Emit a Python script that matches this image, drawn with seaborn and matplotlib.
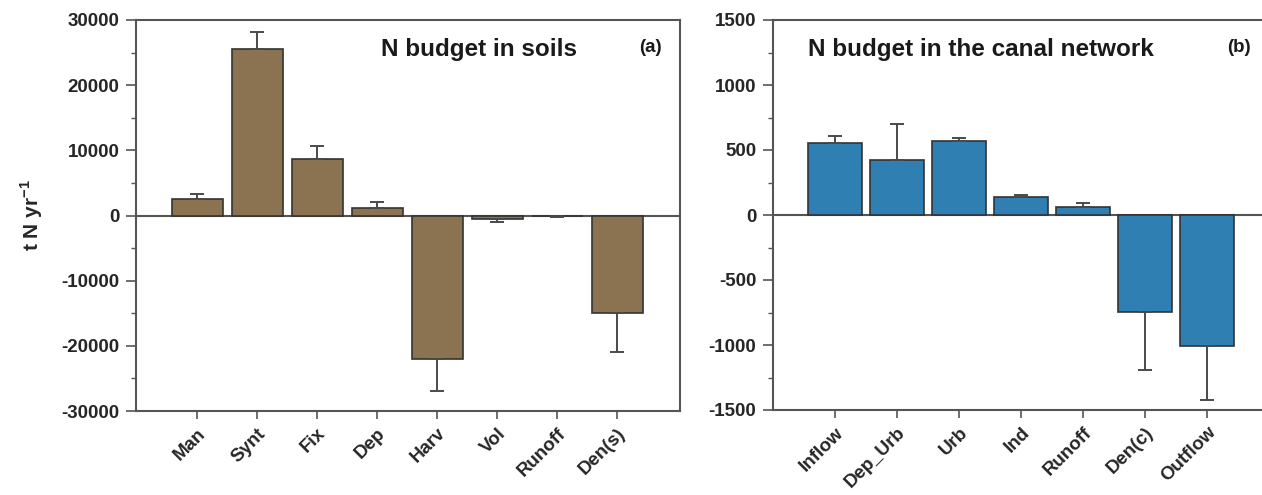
import matplotlib
matplotlib.use("Agg")
import matplotlib.pyplot as plt
from matplotlib.ticker import MultipleLocator
import numpy as np
import pandas as pd
import seaborn as sns

# Soil N budget (t N per year)
soil_terms = ["Man", "Synt", "Fix", "Dep", "Harv", "Vol", "Runoff", "Den(s)"]
soil_values = [2500, 25500, 8700, 1200, -22000, -500, -100, -15000]
soil_errors = [800, 2600, 2000, 800, 4900, 500, 60, 6000]

# Canal network N budget (t N per year)
canal_terms = ["Inflow", "Dep_Urb", "Urb", "Ind", "Runoff", "Den(c)", "Outflow"]
canal_values = [555, 422, 567, 137, 61, -746, -1010]
canal_errors = [50, 275, 27, 15, 35, 450, 415]

soil_ticks = [-30000, -20000, -10000, 0, 10000, 20000, 30000]
canal_ticks = [-1500, -1000, -500, 0, 500, 1000, 1500]

sns.set_theme(style="white")
plt.rcParams["font.family"] = ["Liberation Sans", "DejaVu Sans"]
plt.rcParams["axes.unicode_minus"] = False
plt.rcParams["mathtext.fontset"] = "custom"
plt.rcParams["mathtext.rm"] = "Liberation Sans"
plt.rcParams["mathtext.bf"] = "Liberation Sans:bold"

W, H = 1262, 495
fig = plt.figure(figsize=(W / 100, H / 100), dpi=100)

ax_a = fig.add_axes([136 / W, (H - 411) / H, (680 - 136) / W, (411 - 20) / H])
ax_b = fig.add_axes([773 / W, (H - 410) / H, (1269 - 773) / W, (410 - 20) / H])

spine_col = "#555555"
err_col = "#4a4a4a"


def draw_panel(ax, terms, values, errors, color, width, ticks, minor, xlim,
               title, title_x, tag, tag_x):
    df = pd.DataFrame({"term": terms, "value": values})
    sns.barplot(data=df, x="term", y="value", color=color, width=width,
                saturation=1, edgecolor="#333333", linewidth=1.2, ax=ax,
                errorbar=None)
    vals = np.array(values, dtype=float)
    errs = np.array(errors, dtype=float)
    lower = np.where(vals < 0, errs, 0)
    upper = np.where(vals >= 0, errs, 0)
    ax.errorbar(np.arange(len(terms)), vals, yerr=[lower, upper], fmt="none",
                ecolor=err_col, elinewidth=1.4, capsize=5, capthick=1.4,
                zorder=1)
    ax.axhline(0, color=spine_col, lw=1.5, zorder=0.5)
    ax.set_xlim(*xlim)
    ax.set_ylim(ticks[0], ticks[-1])
    ax.set_yticks(ticks)
    ax.yaxis.set_minor_locator(MultipleLocator(minor))
    ax.set_xlabel("")
    ax.set_ylabel("")
    for sp in ax.spines.values():
        sp.set_color(spine_col)
        sp.set_linewidth(1.5)
        sp.set_visible(True)
    ax.tick_params(axis="y", which="major", direction="out", length=7,
                   width=1.2, color=spine_col, left=True, labelsize=13.5,
                   pad=5)
    ax.tick_params(axis="y", which="minor", direction="out", length=3.5,
                   width=1.0, color=spine_col, left=True)
    ax.tick_params(axis="x", direction="out", length=6, width=1.2,
                   color=spine_col, bottom=True, labelsize=13.5, pad=4)
    for lab in ax.get_yticklabels():
        lab.set_fontweight("bold")
    ax.set_xticks(range(len(terms)))
    ax.set_xticklabels(terms, rotation=45, ha="right", rotation_mode="anchor",
                       fontweight="bold")
    ax.text(title_x, 0.925, title, transform=ax.transAxes, fontsize=17.5,
            fontweight="bold", ha="left", va="center", color="#1a1a1a")
    ax.text(tag_x, 0.93, tag, transform=ax.transAxes, fontsize=13.5,
            fontweight="bold", ha="left", va="center", color="#1a1a1a")


draw_panel(ax_a, soil_terms, soil_values, soil_errors, "#8B7250", 0.85,
           soil_ticks, 5000, (-1.02, 8.05), "N budget in soils", 0.45,
           "(a)", 0.925)
draw_panel(ax_b, canal_terms, canal_values, canal_errors, "#2F7FB2", 0.87,
           canal_ticks, 250, (-1.0, 7.0), "N budget in the canal network",
           0.07, "(b)", 0.915)

ax_a.set_ylabel("t N yr$^{\\mathbf{-1}}$", fontsize=15, fontweight="bold",
                labelpad=12)

fig.savefig("out.png", dpi=100, facecolor="white")
